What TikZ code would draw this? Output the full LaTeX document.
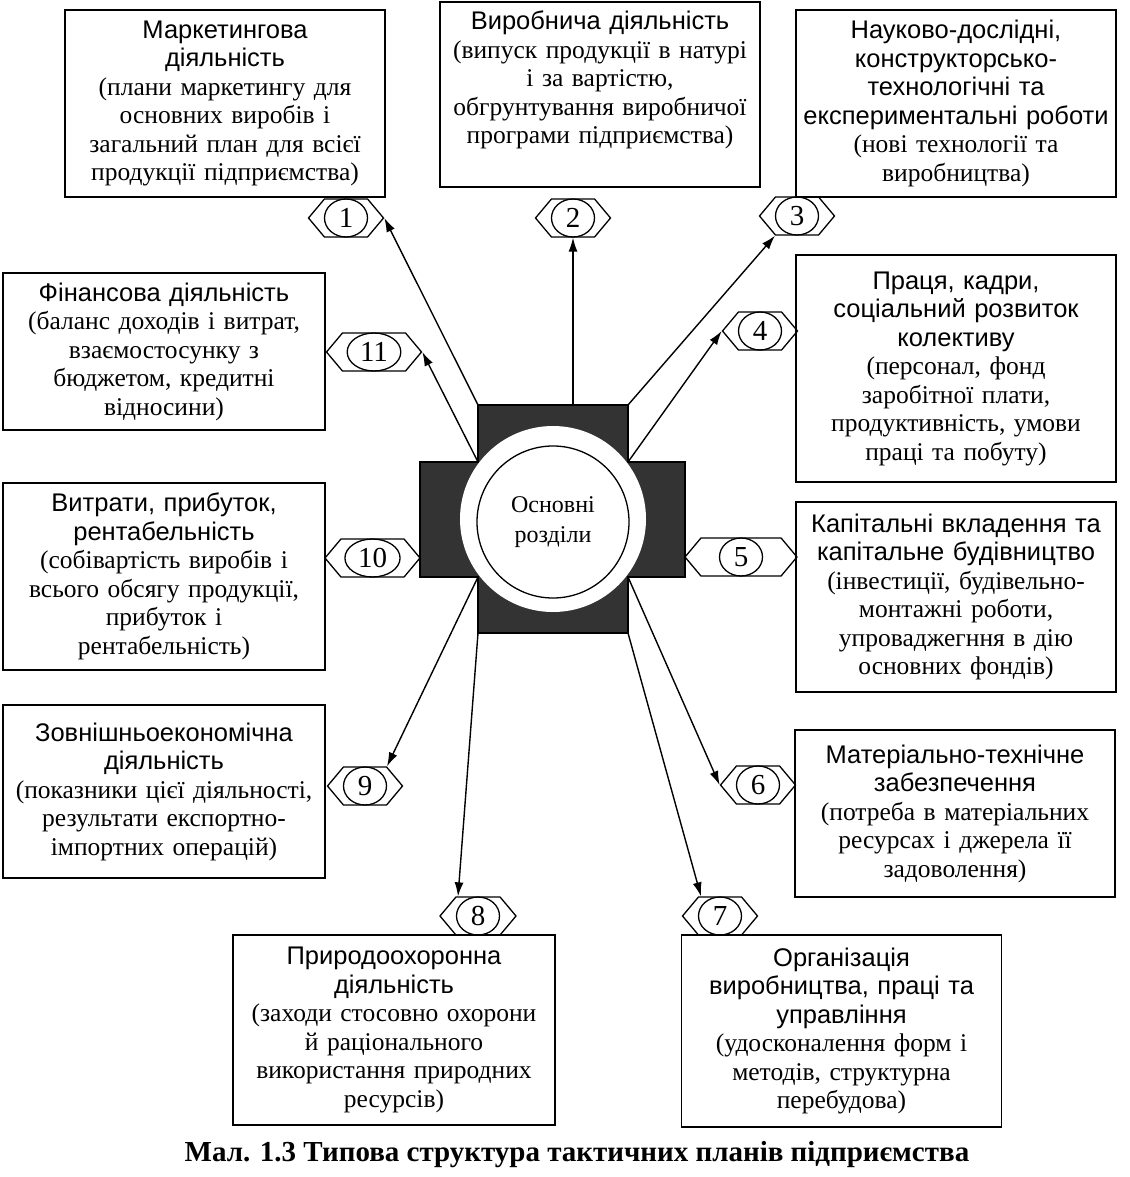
\documentclass[tikz,border=0pt]{standalone}
\usepackage{fontspec}
\setmainfont{Liberation Serif}
\setsansfont{Liberation Sans}
\usetikzlibrary{shapes.symbols,shapes.geometric,arrows.meta}

\begin{document}
\begin{tikzpicture}[x=1pt,y=-1pt,
  box/.style={draw,line width=1.6pt,align=center,text width=316pt,inner xsep=2pt,inner ysep=2pt,
    font=\fontsize{25.5}{28.5}\selectfont},
  tag/.style={signal,signal to=east and west,signal pointer angle=100,draw,line width=1.3pt,
    minimum height=38pt,inner sep=0pt},
  num/.style={ellipse,draw,line width=1.3pt,minimum width=43pt,minimum height=38pt,
    inner xsep=5pt,inner ysep=0pt,font=\fontsize{29}{29}\selectfont},
  arr/.style={-{Latex[length=14pt,width=9pt]},line width=1.4pt}]
\useasboundingbox (0,0) rectangle (1129,1177);

\node[box,minimum width=320pt,minimum height=187pt] (b1) at (225,103.5)
  {\sffamily Маркетингова\\діяльність\\\rmfamily (плани маркетингу для\\основних виробів і\\загальний план для всієї\\продукції підприємства)};
\node[box,minimum width=320pt,minimum height=185pt] (b2) at (600,94.5)
  {\sffamily Виробнича діяльність\\\rmfamily (випуск продукції в натурі\\і за вартістю,\\обгрунтування виробничої\\програми підприємства)\rule[-34pt]{0pt}{1pt}};
\node[box,minimum width=318pt,minimum height=187pt] (b3) at (956,103.5)
  {\sffamily Науково-дослідні,\\конструкторсько-\\технологічні та\\експериментальні роботи\\\rmfamily (нові технології та\\виробництва)};
\node[box,minimum width=318pt,minimum height=227pt] (b4) at (956,368.5)
  {\sffamily Праця, кадри,\\соціальний розвиток\\колективу\\\rmfamily (персонал, фонд\\заробітної плати,\\продуктивність, умови\\праці та побуту)};
\node[box,minimum width=318pt,minimum height=190pt] (b5) at (956,597)
  {\sffamily Капітальні вкладення та\\капітальне будівництво\\\rmfamily (інвестиції, будівельно-\\монтажні роботи,\\упроваджегння в дію\\основних фондів)};
\node[box,minimum width=320pt,minimum height=167pt] (b6) at (955,813.5)
  {\sffamily Матеріально-технічне\\забезпечення\\\rmfamily (потреба в матеріальних\\ресурсах і джерела її\\задоволення)};
\node[box,minimum width=317pt,minimum height=192pt] (b7) at (841.5,1031)
  {\sffamily Організація\\виробництва, праці та\\управління\\\rmfamily (удосконалення форм і\\методів, структурна\\перебудова)};
\node[box,minimum width=322pt,minimum height=190pt] (b8) at (394,1030)
  {\sffamily Природоохоронна\\діяльність\\\rmfamily (заходи стосовно охорони\\й раціонального\\використання природних\\ресурсів)};
\node[box,minimum width=322pt,minimum height=173pt] (b9) at (164,791.5)
  {\sffamily Зовнішньоекономічна\\діяльність\\\rmfamily (показники цієї діяльності,\\результати експортно-\\імпортних операцій)};
\node[box,minimum width=322pt,minimum height=187pt] (b10) at (164,576.5)
  {\sffamily Витрати, прибуток,\\рентабельність\\\rmfamily (собівартість виробів і\\всього обсягу продукції,\\прибуток і\\рентабельність)};
\node[box,minimum width=322pt,minimum height=157pt] (b11) at (164,351.5)
  {\sffamily Фінансова діяльність\\\rmfamily (баланс доходів і витрат,\\взаємостосунку з\\бюджетом, кредитні\\відносини)};

\draw[line width=1.3pt,fill=black!80] (478,405) -- (628,405) -- (628,462) -- (685,462) -- (685,577)
  -- (628,577) -- (628,633) -- (478,633) -- (478,577) -- (420,577) -- (420,462) -- (478,462) -- cycle;
\fill[white] (553,519) circle (93pt);
\node[draw,circle,fill=white,line width=1.3pt,minimum size=152pt,align=center,
  font=\fontsize{24}{30}\selectfont] (core) at (553,522) {Основні\\розділи};

\coordinate (c1) at (478,405);
\coordinate (c2) at (573,405);
\coordinate (c3) at (628,405);
\coordinate (c4) at (628,462);
\coordinate (c6) at (628,577);
\coordinate (c7) at (628,633);
\coordinate (c8) at (478,633);
\coordinate (c9) at (478,577);
\coordinate (c11) at (478,462);

\foreach \i/\x/\y/\w in {1/346/218/75, 2/573/218/75, 3/797/216/75, 4/760/331/75, 5/741/557/112,
    6/758/785/75, 7/720/916/75, 8/478/916/76, 9/365/786/75, 10/372.5/558/95, 11/374/352/95}{
  \node[tag,minimum width=\w pt] (t\i) at (\x,\y) {};
  \node[num] (n\i) at (t\i) {\i};
}

\draw[arr] (c1) -- (t1.east);
\draw[arr] (c2) -- (t2.south);
\draw[arr] (c3) -- ([xshift=-22pt]t3.south);
\draw[arr] (c4) -- (t4.west);
\draw[arr] (c6) -- (t6.west);
\draw[arr] (c7) -- ([xshift=-19pt]t7.north);
\draw[arr] (c8) -- ([xshift=-20pt]t8.north);
\draw[arr] (c9) -- ([xshift=22pt]t9.north);
\draw[arr] (c11) -- (t11.east);

\node[font=\bfseries\fontsize{29}{32}\selectfont] (cap) at (577,1155)
  {Мал. 1.3 Типова структура тактичних планів підприємства};
\end{tikzpicture}
\end{document}
